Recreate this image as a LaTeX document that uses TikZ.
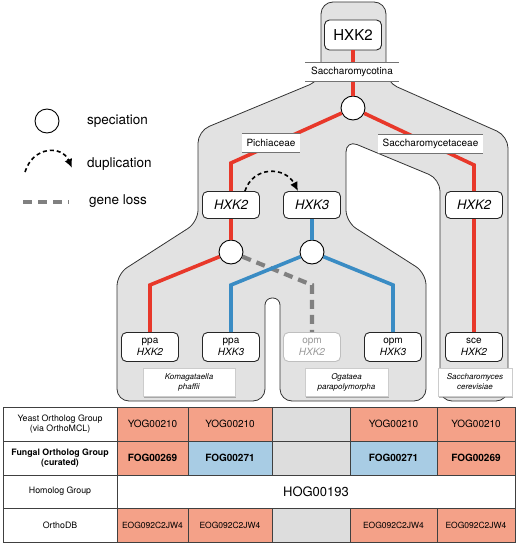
\documentclass[tikz,border=0pt]{standalone}
\usepackage{fontspec}
\setmainfont{TeX Gyre Heros}
\usetikzlibrary{arrows.meta,shadows}
\definecolor{treegray}{RGB}{226,226,226}
\definecolor{specred}{RGB}{232,56,42}
\definecolor{parablue}{RGB}{58,140,196}
\definecolor{salmon}{RGB}{244,161,136}
\definecolor{cellblue}{RGB}{168,204,228}
\definecolor{cellgray}{RGB}{221,221,221}

\begin{document}
\begin{tikzpicture}[x=1pt,y=-1pt,
  region/.style={fill=treegray, draw=black!80, line width=0.8pt, rounded corners=12pt},
  gene/.style={draw=black!85, fill=white, rounded corners=5pt, line width=0.9pt, minimum width=57pt, minimum height=27pt, align=center, font=\fontsize{13}{15}\selectfont\itshape},
  leaf/.style={gene, minimum height=29pt, font=\fontsize{10}{11.5}\selectfont},
  ghost/.style={leaf, draw=black!25, text=black!40},
  spec/.style={circle, draw=black, fill=white, line width=0.9pt, minimum size=24pt},
  taxon/.style={fill=white, minimum height=19pt, font=\fontsize{10}{12}\selectfont,
    drop shadow={shadow xshift=0pt, shadow yshift=-0.8pt, opacity=0.35},
    path picture={\draw[black!55, line width=0.9pt] (path picture bounding box.north west) -- (path picture bounding box.north east) (path picture bounding box.south west) -- (path picture bounding box.south east);}},
  species/.style={fill=white, draw=black!20, line width=0.5pt, minimum height=28pt, align=center, font=\fontsize{8}{10}\selectfont\itshape,
    drop shadow={shadow xshift=0.6pt, shadow yshift=-1.6pt, opacity=0.6}},
  redline/.style={specred, line width=3.6pt},
  blueline/.style={parablue, line width=3.6pt},
  loss/.style={black!50, line width=4.2pt, dash pattern=on 9pt off 6pt},
  dup/.style={black, line width=1.6pt, dash pattern=on 4pt off 3pt, -{Latex[length=9pt,width=8pt]}},
  legtext/.style={anchor=west, font=\fontsize{13.5}{15}\selectfont},
  cell/.style={draw=black!75, line width=0.6pt, align=center, font=\fontsize{10}{12}\selectfont},
  row1/.style={cell, minimum height=34pt},
  row2/.style={cell, minimum height=34pt, font=\fontsize{10}{12}\selectfont\bfseries},
  row3/.style={cell, minimum height=33pt},
  row4/.style={cell, minimum height=34pt, font=\fontsize{8.5}{10}\selectfont}]
\tikzstyle{every node}+=[inner sep=0pt]
\useasboundingbox (0,0) rectangle (520,543);

% species tree
\draw [region] (321,80) -- (321,2) -- (386,2) -- (386,82) -- (508,136) -- (508,401)
  -- (440,401) -- (440,179) -- (346,140) -- (346,222) -- (426,273) -- (426,401)
  -- (280,401) [rounded corners=7pt] -- (280,298) -- (265,298) [rounded corners=12pt] -- (265,401)
  -- (117,401) -- (117,274) -- (198,222) -- (198,131) -- cycle;

% gene nodes
\node [gene, minimum height=30pt, font=\fontsize{15}{17}\selectfont] (root) at (353,35) {HXK2};
\node [spec] (s0) at (353,108) {};
\node [gene] (pHXK2) at (231,205) {HXK2};
\node [gene] (pHXK3) at (312,205) {HXK3};
\node [gene] (cHXK2) at (474,205) {HXK2};
\node [spec] (s1) at (231,252) {};
\node [spec] (s2) at (312,252) {};
\node [leaf] (ppa2) at (150,347) {ppa\\\textit{HXK2}};
\node [leaf] (ppa3) at (231,347) {ppa\\\textit{HXK3}};
\node [ghost] (opm2) at (312,347) {opm\\\textit{HXK2}};
\node [leaf] (opm3) at (393,347) {opm\\\textit{HXK3}};
\node [leaf] (sce2) at (474,347) {sce\\\textit{HXK2}};

\coordinate (pBend) at (231,163);
\coordinate (cBend) at (474,165);
\coordinate (ppa2Bend) at (150,285);
\coordinate (ppa3Bend) at (231,285);
\coordinate (opm2Bend) at (312,285);
\coordinate (opm3Bend) at (393,285);

% gene tree
\draw [redline] (root) -- (s0);
\draw [redline] (s0) -- (pBend) -- (pHXK2);
\draw [redline] (s0) -- (cBend) -- (cHXK2);
\draw [redline] (pHXK2) -- (s1);
\draw [blueline] (pHXK3) -- (s2);
\draw [redline] (s1) -- (ppa2Bend) -- (ppa2);
\draw [loss] (s1) -- (opm2Bend) -- (opm2);
\draw [blueline] (s2) -- (ppa3Bend) -- (ppa3);
\draw [blueline] (s2) -- (opm3Bend) -- (opm3);
\draw [redline] (cHXK2) -- (sce2);
\draw [dup] (pHXK2.45) .. controls (253,166) and (285,166) .. (pHXK3.135);

% taxa
\node [taxon, minimum width=94pt] (saccharomycotina) at (352,71.5) {Saccharomycotina};
\node [taxon, minimum width=58pt] (pichiaceae) at (271,142.5) {Pichiaceae};
\node [taxon, minimum width=105pt] (saccharomycetaceae) at (430.5,144) {Saccharomycetaceae};
\node [species, minimum width=92pt] (kpha) at (189,382) {Komagataella\\phaffii};
\node [species, minimum width=83pt] (opar) at (346.5,382) {Ogataea\\parapolymorpha};
\node [species, minimum width=74pt] (scer) at (475,382) {Saccharomyces\\cerevisiae};

% legend
\node [spec] (legSpec) at (47,121) {};
\node [legtext] (legSpecText) at (87,121) {speciation};
\coordinate (legDupA) at (25,172);
\coordinate (legDupB) at (72,168);
\draw [dup] (legDupA) .. controls (33,146) and (62,145) .. (legDupB);
\node [legtext] (legDupText) at (87,164) {duplication};
\coordinate (legLossA) at (23,202);
\coordinate (legLossB) at (69,202);
\draw [loss] (legLossA) -- (legLossB);
\node [legtext] (legLossText) at (89,201) {gene loss};

% table
\node [row1, minimum width=114pt, font=\fontsize{8.8}{10.5}\selectfont] (yogHead) at (60,424) {Yeast Ortholog Group\\(via OrthoMCL)};
\node [row1, fill=salmon, minimum width=71pt] (yog1) at (152.5,424) {YOG00210};
\node [row1, fill=salmon, minimum width=84pt] (yog2) at (230,424) {YOG00210};
\node [row1, fill=cellgray, minimum width=78pt] (yog3) at (311,424) {};
\node [row1, fill=salmon, minimum width=87pt] (yog4) at (393.5,424) {YOG00210};
\node [row1, fill=salmon, minimum width=78pt] (yog5) at (476,424) {YOG00210};
\node [row2, minimum width=114pt, font=\fontsize{8.8}{10.5}\selectfont\bfseries] (fogHead) at (60,458) {Fungal Ortholog Group\\(curated)};
\node [row2, fill=salmon, minimum width=71pt] (fog1) at (152.5,458) {FOG00269};
\node [row2, fill=cellblue, minimum width=84pt] (fog2) at (230,458) {FOG00271};
\node [row2, fill=cellgray, minimum width=78pt] (fog3) at (311,458) {};
\node [row2, fill=cellblue, minimum width=87pt] (fog4) at (393.5,458) {FOG00271};
\node [row2, fill=salmon, minimum width=78pt] (fog5) at (476,458) {FOG00269};
\node [row3, minimum width=114pt, font=\fontsize{8.8}{10.5}\selectfont] (hogHead) at (60,491.5) {Homolog Group};
\node [row3, fill=white, minimum width=398pt, font=\fontsize{13}{15}\selectfont] (hog) at (316,491.5) {HOG00193};
\node [row4, minimum width=114pt, font=\fontsize{8.8}{10.5}\selectfont] (odbHead) at (60,525) {OrthoDB};
\node [row4, fill=salmon, minimum width=71pt] (odb1) at (152.5,525) {EOG092C2JW4};
\node [row4, fill=salmon, minimum width=84pt] (odb2) at (230,525) {EOG092C2JW4};
\node [row4, fill=cellgray, minimum width=78pt] (odb3) at (311,525) {};
\node [row4, fill=salmon, minimum width=87pt] (odb4) at (393.5,525) {EOG092C2JW4};
\node [row4, fill=salmon, minimum width=78pt] (odb5) at (476,525) {EOG092C2JW4};
\end{tikzpicture}
\end{document}
